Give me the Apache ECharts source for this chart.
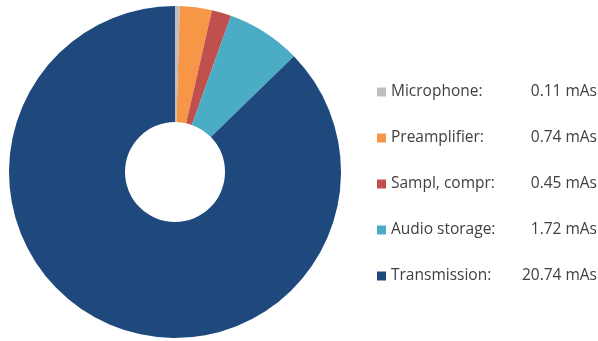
<!DOCTYPE html>
<html><head><meta charset="utf-8">
<script src="https://cdn.jsdelivr.net/npm/echarts@6/dist/echarts.min.js"></script>
<style>html,body{margin:0;padding:0;background:#fff}#c{width:598px;height:341px}</style>
</head><body><div id="c"></div>
<script>
const categories = ["Microphone", "Preamplifier", "Sampl, compr", "Audio storage", "Transmission"];
const values = [0.11, 0.74, 0.45, 1.72, 20.74];
const colors = ["#BFBFBF", "#F79646", "#C0504D", "#4BACC6", "#1F497D"];
const unit = "mAs";

const chart = echarts.init(document.getElementById('c'), null, {renderer: 'canvas'});
const valMap = {};
categories.forEach((c, i) => valMap[c] = values[i]);
chart.setOption({
  animation: false,
  color: colors,
  legend: {
    orient: 'vertical',
    left: 372,
    top: 79,
    itemWidth: 9,
    itemHeight: 9,
    itemGap: 30,
    icon: 'rect',
    data: categories,
    formatter: n => '{a|' + n + ':}{b|' + valMap[n].toFixed(2) + ' ' + unit + '}',
    textStyle: {
      fontFamily: 'Open Sans',
      fontSize: 15.5,
      color: '#404040',
      rich: {
        a: {width: 121, fontFamily: 'Open Sans', fontSize: 15.5, color: '#404040', lineHeight: 20},
        b: {width: 85, align: 'right', fontFamily: 'Open Sans', fontSize: 15.5, color: '#404040', lineHeight: 20}
      }
    }
  },
  series: [{
    type: 'pie',
    center: [175, 172],
    radius: [50, 166],
    startAngle: 90,
    clockwise: true,
    label: {show: false},
    labelLine: {show: false},
    emphasis: {disabled: true},
    data: categories.map((c, i) => ({name: c, value: values[i]}))
  }]
});
</script></body></html>
